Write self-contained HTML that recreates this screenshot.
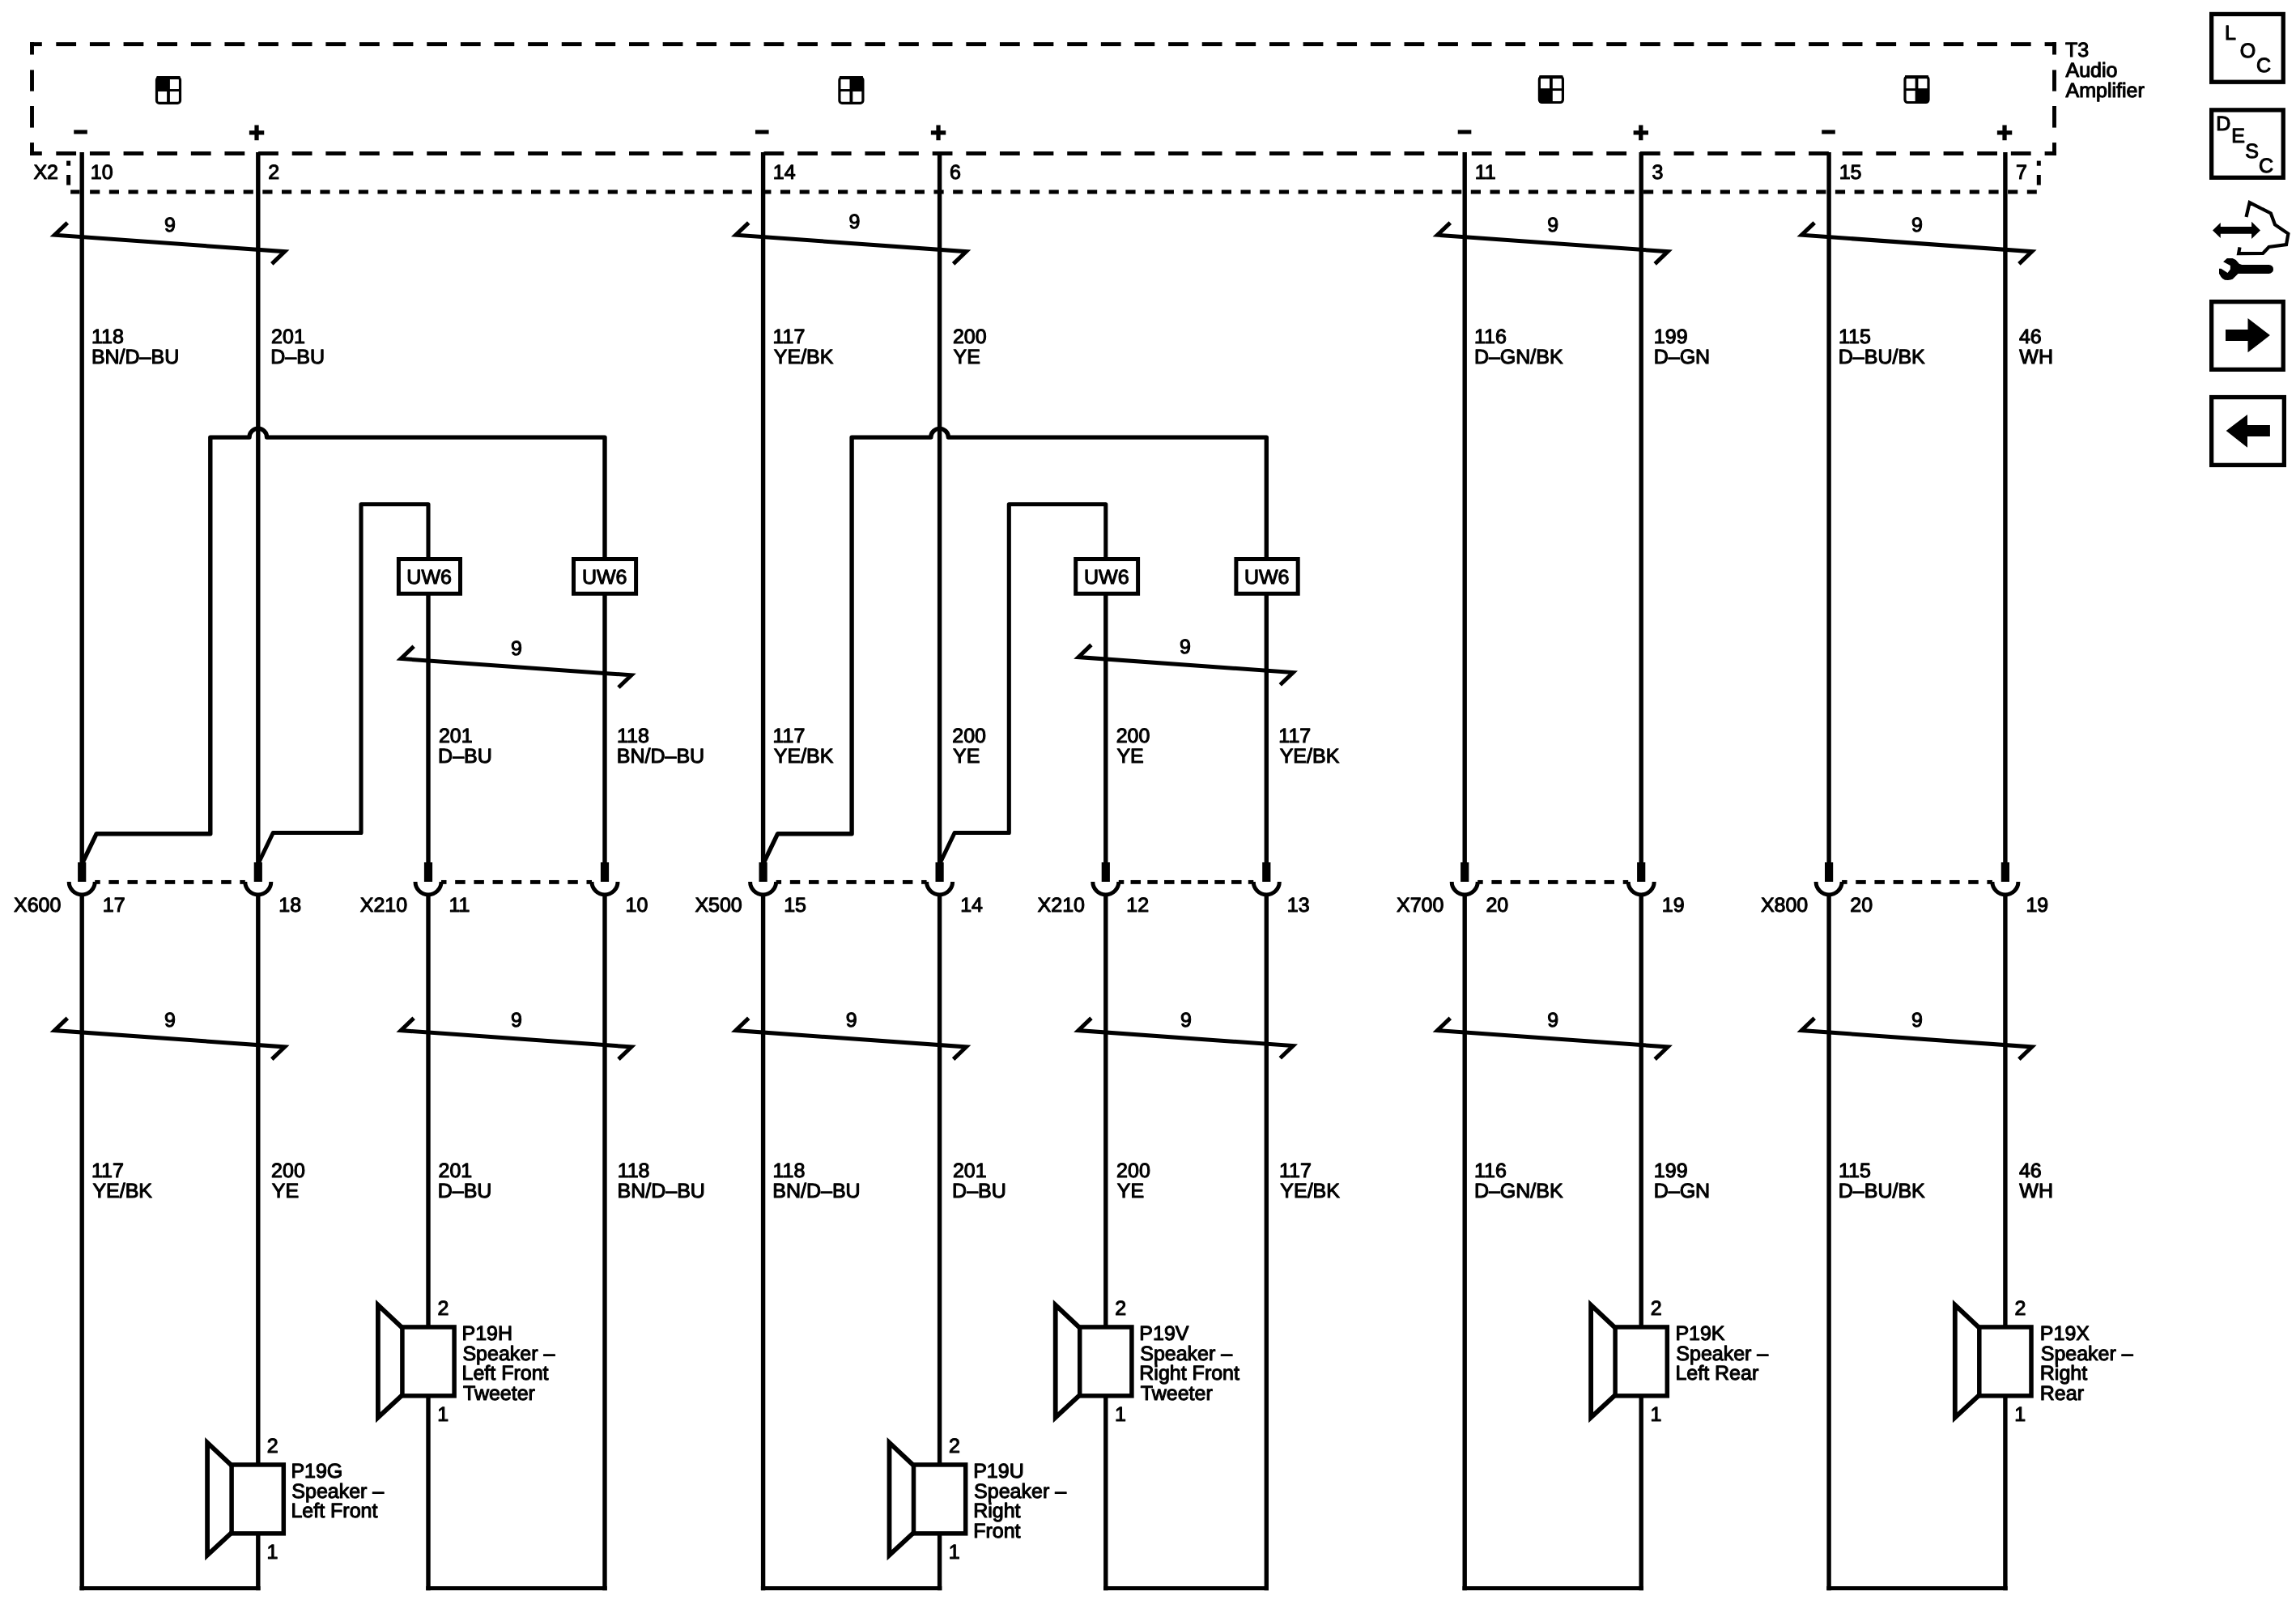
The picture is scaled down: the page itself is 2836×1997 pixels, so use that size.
<!DOCTYPE html>
<html lang="en"><head><meta charset="utf-8"><title>T3 Audio Amplifier – Speaker Wiring</title>
<style>
html,body{margin:0;padding:0;background:#fff}
body{width:2836px;height:1997px;overflow:hidden}
svg{display:block;will-change:transform;filter:grayscale(1)}
.t,.pm{text-rendering:geometricPrecision}
.t{font-family:"Liberation Sans",sans-serif;font-size:25px;fill:#000;stroke:#000;stroke-width:1.1px;stroke-linejoin:round}
.pm{font-family:"Liberation Sans",sans-serif;font-weight:bold;fill:#000;stroke:#000;stroke-width:1.6px}
</style></head><body>
<svg width="2836" height="1997" viewBox="0 0 2836 1997" shape-rendering="geometricPrecision">
<rect x="0" y="0" width="2836" height="1997" fill="#fff"/>
<g stroke="#000">
<line x1="37.05" y1="54.6" x2="51.8" y2="54.6" stroke-width="4.9"/>
<line x1="69.3" y1="54.6" x2="94.1" y2="54.6" stroke-width="4.9"/>
<line x1="110.93" y1="54.6" x2="135.73" y2="54.6" stroke-width="4.9"/>
<line x1="152.56" y1="54.6" x2="177.36" y2="54.6" stroke-width="4.9"/>
<line x1="194.19" y1="54.6" x2="218.99" y2="54.6" stroke-width="4.9"/>
<line x1="235.82" y1="54.6" x2="260.62" y2="54.6" stroke-width="4.9"/>
<line x1="277.45" y1="54.6" x2="302.25" y2="54.6" stroke-width="4.9"/>
<line x1="319.08" y1="54.6" x2="343.88" y2="54.6" stroke-width="4.9"/>
<line x1="360.71" y1="54.6" x2="385.51" y2="54.6" stroke-width="4.9"/>
<line x1="402.34" y1="54.6" x2="427.14" y2="54.6" stroke-width="4.9"/>
<line x1="443.97" y1="54.6" x2="468.77" y2="54.6" stroke-width="4.9"/>
<line x1="485.6" y1="54.6" x2="510.4" y2="54.6" stroke-width="4.9"/>
<line x1="527.23" y1="54.6" x2="552.03" y2="54.6" stroke-width="4.9"/>
<line x1="568.86" y1="54.6" x2="593.66" y2="54.6" stroke-width="4.9"/>
<line x1="610.49" y1="54.6" x2="635.29" y2="54.6" stroke-width="4.9"/>
<line x1="652.12" y1="54.6" x2="676.92" y2="54.6" stroke-width="4.9"/>
<line x1="693.75" y1="54.6" x2="718.55" y2="54.6" stroke-width="4.9"/>
<line x1="735.38" y1="54.6" x2="760.18" y2="54.6" stroke-width="4.9"/>
<line x1="777.01" y1="54.6" x2="801.81" y2="54.6" stroke-width="4.9"/>
<line x1="818.64" y1="54.6" x2="843.44" y2="54.6" stroke-width="4.9"/>
<line x1="860.27" y1="54.6" x2="885.07" y2="54.6" stroke-width="4.9"/>
<line x1="901.9" y1="54.6" x2="926.7" y2="54.6" stroke-width="4.9"/>
<line x1="943.53" y1="54.6" x2="968.33" y2="54.6" stroke-width="4.9"/>
<line x1="985.16" y1="54.6" x2="1009.96" y2="54.6" stroke-width="4.9"/>
<line x1="1026.79" y1="54.6" x2="1051.59" y2="54.6" stroke-width="4.9"/>
<line x1="1068.42" y1="54.6" x2="1093.22" y2="54.6" stroke-width="4.9"/>
<line x1="1110.05" y1="54.6" x2="1134.85" y2="54.6" stroke-width="4.9"/>
<line x1="1151.68" y1="54.6" x2="1176.48" y2="54.6" stroke-width="4.9"/>
<line x1="1193.31" y1="54.6" x2="1218.11" y2="54.6" stroke-width="4.9"/>
<line x1="1234.94" y1="54.6" x2="1259.74" y2="54.6" stroke-width="4.9"/>
<line x1="1276.57" y1="54.6" x2="1301.37" y2="54.6" stroke-width="4.9"/>
<line x1="1318.2" y1="54.6" x2="1343" y2="54.6" stroke-width="4.9"/>
<line x1="1359.83" y1="54.6" x2="1384.63" y2="54.6" stroke-width="4.9"/>
<line x1="1401.46" y1="54.6" x2="1426.26" y2="54.6" stroke-width="4.9"/>
<line x1="1443.09" y1="54.6" x2="1467.89" y2="54.6" stroke-width="4.9"/>
<line x1="1484.72" y1="54.6" x2="1509.52" y2="54.6" stroke-width="4.9"/>
<line x1="1526.35" y1="54.6" x2="1551.15" y2="54.6" stroke-width="4.9"/>
<line x1="1567.98" y1="54.6" x2="1592.78" y2="54.6" stroke-width="4.9"/>
<line x1="1609.61" y1="54.6" x2="1634.41" y2="54.6" stroke-width="4.9"/>
<line x1="1651.24" y1="54.6" x2="1676.04" y2="54.6" stroke-width="4.9"/>
<line x1="1692.87" y1="54.6" x2="1717.67" y2="54.6" stroke-width="4.9"/>
<line x1="1734.5" y1="54.6" x2="1759.3" y2="54.6" stroke-width="4.9"/>
<line x1="1776.13" y1="54.6" x2="1800.93" y2="54.6" stroke-width="4.9"/>
<line x1="1817.76" y1="54.6" x2="1842.56" y2="54.6" stroke-width="4.9"/>
<line x1="1859.39" y1="54.6" x2="1884.19" y2="54.6" stroke-width="4.9"/>
<line x1="1901.02" y1="54.6" x2="1925.82" y2="54.6" stroke-width="4.9"/>
<line x1="1942.65" y1="54.6" x2="1967.45" y2="54.6" stroke-width="4.9"/>
<line x1="1984.28" y1="54.6" x2="2009.08" y2="54.6" stroke-width="4.9"/>
<line x1="2025.91" y1="54.6" x2="2050.71" y2="54.6" stroke-width="4.9"/>
<line x1="2067.54" y1="54.6" x2="2092.34" y2="54.6" stroke-width="4.9"/>
<line x1="2109.17" y1="54.6" x2="2133.97" y2="54.6" stroke-width="4.9"/>
<line x1="2150.8" y1="54.6" x2="2175.6" y2="54.6" stroke-width="4.9"/>
<line x1="2192.43" y1="54.6" x2="2217.23" y2="54.6" stroke-width="4.9"/>
<line x1="2234.06" y1="54.6" x2="2258.86" y2="54.6" stroke-width="4.9"/>
<line x1="2275.69" y1="54.6" x2="2300.49" y2="54.6" stroke-width="4.9"/>
<line x1="2317.32" y1="54.6" x2="2342.12" y2="54.6" stroke-width="4.9"/>
<line x1="2358.95" y1="54.6" x2="2383.75" y2="54.6" stroke-width="4.9"/>
<line x1="2400.58" y1="54.6" x2="2425.38" y2="54.6" stroke-width="4.9"/>
<line x1="2442.21" y1="54.6" x2="2467.01" y2="54.6" stroke-width="4.9"/>
<line x1="2483.84" y1="54.6" x2="2508.64" y2="54.6" stroke-width="4.9"/>
<line x1="2525.6" y1="54.6" x2="2539.95" y2="54.6" stroke-width="4.9"/>
<line x1="37.05" y1="189.5" x2="51.8" y2="189.5" stroke-width="4.9"/>
<line x1="69.3" y1="189.5" x2="94.1" y2="189.5" stroke-width="4.9"/>
<line x1="110.93" y1="189.5" x2="135.73" y2="189.5" stroke-width="4.9"/>
<line x1="152.56" y1="189.5" x2="177.36" y2="189.5" stroke-width="4.9"/>
<line x1="194.19" y1="189.5" x2="218.99" y2="189.5" stroke-width="4.9"/>
<line x1="235.82" y1="189.5" x2="260.62" y2="189.5" stroke-width="4.9"/>
<line x1="277.45" y1="189.5" x2="302.25" y2="189.5" stroke-width="4.9"/>
<line x1="319.08" y1="189.5" x2="343.88" y2="189.5" stroke-width="4.9"/>
<line x1="360.71" y1="189.5" x2="385.51" y2="189.5" stroke-width="4.9"/>
<line x1="402.34" y1="189.5" x2="427.14" y2="189.5" stroke-width="4.9"/>
<line x1="443.97" y1="189.5" x2="468.77" y2="189.5" stroke-width="4.9"/>
<line x1="485.6" y1="189.5" x2="510.4" y2="189.5" stroke-width="4.9"/>
<line x1="527.23" y1="189.5" x2="552.03" y2="189.5" stroke-width="4.9"/>
<line x1="568.86" y1="189.5" x2="593.66" y2="189.5" stroke-width="4.9"/>
<line x1="610.49" y1="189.5" x2="635.29" y2="189.5" stroke-width="4.9"/>
<line x1="652.12" y1="189.5" x2="676.92" y2="189.5" stroke-width="4.9"/>
<line x1="693.75" y1="189.5" x2="718.55" y2="189.5" stroke-width="4.9"/>
<line x1="735.38" y1="189.5" x2="760.18" y2="189.5" stroke-width="4.9"/>
<line x1="777.01" y1="189.5" x2="801.81" y2="189.5" stroke-width="4.9"/>
<line x1="818.64" y1="189.5" x2="843.44" y2="189.5" stroke-width="4.9"/>
<line x1="860.27" y1="189.5" x2="885.07" y2="189.5" stroke-width="4.9"/>
<line x1="901.9" y1="189.5" x2="926.7" y2="189.5" stroke-width="4.9"/>
<line x1="943.53" y1="189.5" x2="968.33" y2="189.5" stroke-width="4.9"/>
<line x1="985.16" y1="189.5" x2="1009.96" y2="189.5" stroke-width="4.9"/>
<line x1="1026.79" y1="189.5" x2="1051.59" y2="189.5" stroke-width="4.9"/>
<line x1="1068.42" y1="189.5" x2="1093.22" y2="189.5" stroke-width="4.9"/>
<line x1="1110.05" y1="189.5" x2="1134.85" y2="189.5" stroke-width="4.9"/>
<line x1="1151.68" y1="189.5" x2="1176.48" y2="189.5" stroke-width="4.9"/>
<line x1="1193.31" y1="189.5" x2="1218.11" y2="189.5" stroke-width="4.9"/>
<line x1="1234.94" y1="189.5" x2="1259.74" y2="189.5" stroke-width="4.9"/>
<line x1="1276.57" y1="189.5" x2="1301.37" y2="189.5" stroke-width="4.9"/>
<line x1="1318.2" y1="189.5" x2="1343" y2="189.5" stroke-width="4.9"/>
<line x1="1359.83" y1="189.5" x2="1384.63" y2="189.5" stroke-width="4.9"/>
<line x1="1401.46" y1="189.5" x2="1426.26" y2="189.5" stroke-width="4.9"/>
<line x1="1443.09" y1="189.5" x2="1467.89" y2="189.5" stroke-width="4.9"/>
<line x1="1484.72" y1="189.5" x2="1509.52" y2="189.5" stroke-width="4.9"/>
<line x1="1526.35" y1="189.5" x2="1551.15" y2="189.5" stroke-width="4.9"/>
<line x1="1567.98" y1="189.5" x2="1592.78" y2="189.5" stroke-width="4.9"/>
<line x1="1609.61" y1="189.5" x2="1634.41" y2="189.5" stroke-width="4.9"/>
<line x1="1651.24" y1="189.5" x2="1676.04" y2="189.5" stroke-width="4.9"/>
<line x1="1692.87" y1="189.5" x2="1717.67" y2="189.5" stroke-width="4.9"/>
<line x1="1734.5" y1="189.5" x2="1759.3" y2="189.5" stroke-width="4.9"/>
<line x1="1776.13" y1="189.5" x2="1800.93" y2="189.5" stroke-width="4.9"/>
<line x1="1817.76" y1="189.5" x2="1842.56" y2="189.5" stroke-width="4.9"/>
<line x1="1859.39" y1="189.5" x2="1884.19" y2="189.5" stroke-width="4.9"/>
<line x1="1901.02" y1="189.5" x2="1925.82" y2="189.5" stroke-width="4.9"/>
<line x1="1942.65" y1="189.5" x2="1967.45" y2="189.5" stroke-width="4.9"/>
<line x1="1984.28" y1="189.5" x2="2009.08" y2="189.5" stroke-width="4.9"/>
<line x1="2025.91" y1="189.5" x2="2050.71" y2="189.5" stroke-width="4.9"/>
<line x1="2067.54" y1="189.5" x2="2092.34" y2="189.5" stroke-width="4.9"/>
<line x1="2109.17" y1="189.5" x2="2133.97" y2="189.5" stroke-width="4.9"/>
<line x1="2150.8" y1="189.5" x2="2175.6" y2="189.5" stroke-width="4.9"/>
<line x1="2192.43" y1="189.5" x2="2217.23" y2="189.5" stroke-width="4.9"/>
<line x1="2234.06" y1="189.5" x2="2258.86" y2="189.5" stroke-width="4.9"/>
<line x1="2275.69" y1="189.5" x2="2300.49" y2="189.5" stroke-width="4.9"/>
<line x1="2317.32" y1="189.5" x2="2342.12" y2="189.5" stroke-width="4.9"/>
<line x1="2358.95" y1="189.5" x2="2383.75" y2="189.5" stroke-width="4.9"/>
<line x1="2400.58" y1="189.5" x2="2425.38" y2="189.5" stroke-width="4.9"/>
<line x1="2442.21" y1="189.5" x2="2467.01" y2="189.5" stroke-width="4.9"/>
<line x1="2483.84" y1="189.5" x2="2508.64" y2="189.5" stroke-width="4.9"/>
<line x1="2525.6" y1="189.5" x2="2539.95" y2="189.5" stroke-width="4.9"/>
<line x1="39.5" y1="52.15" x2="39.5" y2="67.5" stroke-width="4.9"/>
<line x1="39.5" y1="86.4" x2="39.5" y2="112.6" stroke-width="4.9"/>
<line x1="39.5" y1="131" x2="39.5" y2="157.6" stroke-width="4.9"/>
<line x1="39.5" y1="176.1" x2="39.5" y2="191.95" stroke-width="4.9"/>
<line x1="2537.5" y1="52.15" x2="2537.5" y2="67.5" stroke-width="4.9"/>
<line x1="2537.5" y1="86.4" x2="2537.5" y2="112.6" stroke-width="4.9"/>
<line x1="2537.5" y1="131" x2="2537.5" y2="157.6" stroke-width="4.9"/>
<line x1="2537.5" y1="176.1" x2="2537.5" y2="191.95" stroke-width="4.9"/>
<line x1="87.1" y1="237" x2="98.5" y2="237" stroke-width="5"/>
<line x1="111.1" y1="237" x2="123.3" y2="237" stroke-width="5"/>
<line x1="134.79" y1="237" x2="146.99" y2="237" stroke-width="5"/>
<line x1="158.48" y1="237" x2="170.68" y2="237" stroke-width="5"/>
<line x1="182.17" y1="237" x2="194.37" y2="237" stroke-width="5"/>
<line x1="205.86" y1="237" x2="218.06" y2="237" stroke-width="5"/>
<line x1="229.55" y1="237" x2="241.75" y2="237" stroke-width="5"/>
<line x1="253.24" y1="237" x2="265.44" y2="237" stroke-width="5"/>
<line x1="276.93" y1="237" x2="289.13" y2="237" stroke-width="5"/>
<line x1="300.62" y1="237" x2="312.82" y2="237" stroke-width="5"/>
<line x1="324.31" y1="237" x2="336.51" y2="237" stroke-width="5"/>
<line x1="348" y1="237" x2="360.2" y2="237" stroke-width="5"/>
<line x1="371.69" y1="237" x2="383.89" y2="237" stroke-width="5"/>
<line x1="395.38" y1="237" x2="407.58" y2="237" stroke-width="5"/>
<line x1="419.07" y1="237" x2="431.27" y2="237" stroke-width="5"/>
<line x1="442.76" y1="237" x2="454.96" y2="237" stroke-width="5"/>
<line x1="466.45" y1="237" x2="478.65" y2="237" stroke-width="5"/>
<line x1="490.14" y1="237" x2="502.34" y2="237" stroke-width="5"/>
<line x1="513.83" y1="237" x2="526.03" y2="237" stroke-width="5"/>
<line x1="537.52" y1="237" x2="549.72" y2="237" stroke-width="5"/>
<line x1="561.21" y1="237" x2="573.41" y2="237" stroke-width="5"/>
<line x1="584.9" y1="237" x2="597.1" y2="237" stroke-width="5"/>
<line x1="608.59" y1="237" x2="620.79" y2="237" stroke-width="5"/>
<line x1="632.28" y1="237" x2="644.48" y2="237" stroke-width="5"/>
<line x1="655.97" y1="237" x2="668.17" y2="237" stroke-width="5"/>
<line x1="679.66" y1="237" x2="691.86" y2="237" stroke-width="5"/>
<line x1="703.35" y1="237" x2="715.55" y2="237" stroke-width="5"/>
<line x1="727.04" y1="237" x2="739.24" y2="237" stroke-width="5"/>
<line x1="750.73" y1="237" x2="762.93" y2="237" stroke-width="5"/>
<line x1="774.42" y1="237" x2="786.62" y2="237" stroke-width="5"/>
<line x1="798.11" y1="237" x2="810.31" y2="237" stroke-width="5"/>
<line x1="821.8" y1="237" x2="834" y2="237" stroke-width="5"/>
<line x1="845.49" y1="237" x2="857.69" y2="237" stroke-width="5"/>
<line x1="869.18" y1="237" x2="881.38" y2="237" stroke-width="5"/>
<line x1="892.87" y1="237" x2="905.07" y2="237" stroke-width="5"/>
<line x1="916.56" y1="237" x2="928.76" y2="237" stroke-width="5"/>
<line x1="940.25" y1="237" x2="952.45" y2="237" stroke-width="5"/>
<line x1="963.94" y1="237" x2="976.14" y2="237" stroke-width="5"/>
<line x1="987.63" y1="237" x2="999.83" y2="237" stroke-width="5"/>
<line x1="1011.32" y1="237" x2="1023.52" y2="237" stroke-width="5"/>
<line x1="1035.01" y1="237" x2="1047.21" y2="237" stroke-width="5"/>
<line x1="1058.7" y1="237" x2="1070.9" y2="237" stroke-width="5"/>
<line x1="1082.39" y1="237" x2="1094.59" y2="237" stroke-width="5"/>
<line x1="1106.08" y1="237" x2="1118.28" y2="237" stroke-width="5"/>
<line x1="1129.77" y1="237" x2="1141.97" y2="237" stroke-width="5"/>
<line x1="1153.46" y1="237" x2="1165.66" y2="237" stroke-width="5"/>
<line x1="1177.15" y1="237" x2="1189.35" y2="237" stroke-width="5"/>
<line x1="1200.84" y1="237" x2="1213.04" y2="237" stroke-width="5"/>
<line x1="1224.53" y1="237" x2="1236.73" y2="237" stroke-width="5"/>
<line x1="1248.22" y1="237" x2="1260.42" y2="237" stroke-width="5"/>
<line x1="1271.91" y1="237" x2="1284.11" y2="237" stroke-width="5"/>
<line x1="1295.6" y1="237" x2="1307.8" y2="237" stroke-width="5"/>
<line x1="1319.29" y1="237" x2="1331.49" y2="237" stroke-width="5"/>
<line x1="1342.98" y1="237" x2="1355.18" y2="237" stroke-width="5"/>
<line x1="1366.67" y1="237" x2="1378.87" y2="237" stroke-width="5"/>
<line x1="1390.36" y1="237" x2="1402.56" y2="237" stroke-width="5"/>
<line x1="1414.05" y1="237" x2="1426.25" y2="237" stroke-width="5"/>
<line x1="1437.74" y1="237" x2="1449.94" y2="237" stroke-width="5"/>
<line x1="1461.43" y1="237" x2="1473.63" y2="237" stroke-width="5"/>
<line x1="1485.12" y1="237" x2="1497.32" y2="237" stroke-width="5"/>
<line x1="1508.81" y1="237" x2="1521.01" y2="237" stroke-width="5"/>
<line x1="1532.5" y1="237" x2="1544.7" y2="237" stroke-width="5"/>
<line x1="1556.19" y1="237" x2="1568.39" y2="237" stroke-width="5"/>
<line x1="1579.88" y1="237" x2="1592.08" y2="237" stroke-width="5"/>
<line x1="1603.57" y1="237" x2="1615.77" y2="237" stroke-width="5"/>
<line x1="1627.26" y1="237" x2="1639.46" y2="237" stroke-width="5"/>
<line x1="1650.95" y1="237" x2="1663.15" y2="237" stroke-width="5"/>
<line x1="1674.64" y1="237" x2="1686.84" y2="237" stroke-width="5"/>
<line x1="1698.33" y1="237" x2="1710.53" y2="237" stroke-width="5"/>
<line x1="1722.02" y1="237" x2="1734.22" y2="237" stroke-width="5"/>
<line x1="1745.71" y1="237" x2="1757.91" y2="237" stroke-width="5"/>
<line x1="1769.4" y1="237" x2="1781.6" y2="237" stroke-width="5"/>
<line x1="1793.09" y1="237" x2="1805.29" y2="237" stroke-width="5"/>
<line x1="1816.78" y1="237" x2="1828.98" y2="237" stroke-width="5"/>
<line x1="1840.47" y1="237" x2="1852.67" y2="237" stroke-width="5"/>
<line x1="1864.16" y1="237" x2="1876.36" y2="237" stroke-width="5"/>
<line x1="1887.85" y1="237" x2="1900.05" y2="237" stroke-width="5"/>
<line x1="1911.54" y1="237" x2="1923.74" y2="237" stroke-width="5"/>
<line x1="1935.23" y1="237" x2="1947.43" y2="237" stroke-width="5"/>
<line x1="1958.92" y1="237" x2="1971.12" y2="237" stroke-width="5"/>
<line x1="1982.61" y1="237" x2="1994.81" y2="237" stroke-width="5"/>
<line x1="2006.3" y1="237" x2="2018.5" y2="237" stroke-width="5"/>
<line x1="2029.99" y1="237" x2="2042.19" y2="237" stroke-width="5"/>
<line x1="2053.68" y1="237" x2="2065.88" y2="237" stroke-width="5"/>
<line x1="2077.37" y1="237" x2="2089.57" y2="237" stroke-width="5"/>
<line x1="2101.06" y1="237" x2="2113.26" y2="237" stroke-width="5"/>
<line x1="2124.75" y1="237" x2="2136.95" y2="237" stroke-width="5"/>
<line x1="2148.44" y1="237" x2="2160.64" y2="237" stroke-width="5"/>
<line x1="2172.13" y1="237" x2="2184.33" y2="237" stroke-width="5"/>
<line x1="2195.82" y1="237" x2="2208.02" y2="237" stroke-width="5"/>
<line x1="2219.51" y1="237" x2="2231.71" y2="237" stroke-width="5"/>
<line x1="2243.2" y1="237" x2="2255.4" y2="237" stroke-width="5"/>
<line x1="2266.89" y1="237" x2="2279.09" y2="237" stroke-width="5"/>
<line x1="2290.58" y1="237" x2="2302.78" y2="237" stroke-width="5"/>
<line x1="2314.27" y1="237" x2="2326.47" y2="237" stroke-width="5"/>
<line x1="2337.96" y1="237" x2="2350.16" y2="237" stroke-width="5"/>
<line x1="2361.65" y1="237" x2="2373.85" y2="237" stroke-width="5"/>
<line x1="2385.34" y1="237" x2="2397.54" y2="237" stroke-width="5"/>
<line x1="2409.03" y1="237" x2="2421.23" y2="237" stroke-width="5"/>
<line x1="2432.72" y1="237" x2="2444.92" y2="237" stroke-width="5"/>
<line x1="2456.41" y1="237" x2="2468.61" y2="237" stroke-width="5"/>
<line x1="2480.1" y1="237" x2="2492.3" y2="237" stroke-width="5"/>
<line x1="2503.79" y1="237" x2="2515.8" y2="237" stroke-width="5"/>
<line x1="84.6" y1="198.6" x2="84.6" y2="204.7" stroke-width="5"/>
<line x1="84.6" y1="216" x2="84.6" y2="228.6" stroke-width="5"/>
<line x1="2518.3" y1="198.6" x2="2518.3" y2="204.7" stroke-width="5"/>
<line x1="2518.3" y1="216" x2="2518.3" y2="228.6" stroke-width="5"/>
<rect x="193.5" y="95.6" width="29" height="31.8" rx="3.2" ry="3.2" fill="#fff" stroke-width="3.2"/>
<line x1="193.5" y1="96" x2="222.5" y2="96" stroke-width="4"/>
<line x1="208" y1="95.6" x2="208" y2="127.4" stroke-width="3.8"/>
<line x1="193.5" y1="111.5" x2="222.5" y2="111.5" stroke-width="2.9"/>
<rect x="193.5" y="95.6" width="14.5" height="15.9" fill="#000" stroke="none"/>
<rect x="1036.9" y="95.6" width="29" height="31.8" rx="3.2" ry="3.2" fill="#fff" stroke-width="3.2"/>
<line x1="1036.9" y1="96" x2="1065.9" y2="96" stroke-width="4"/>
<line x1="1051.4" y1="95.6" x2="1051.4" y2="127.4" stroke-width="3.8"/>
<line x1="1036.9" y1="111.5" x2="1065.9" y2="111.5" stroke-width="2.9"/>
<rect x="1051.4" y="95.6" width="14.5" height="15.9" fill="#000" stroke="none"/>
<rect x="1901.4" y="94.7" width="29" height="31.8" rx="3.2" ry="3.2" fill="#fff" stroke-width="3.2"/>
<line x1="1901.4" y1="95.1" x2="1930.4" y2="95.1" stroke-width="4"/>
<line x1="1915.9" y1="94.7" x2="1915.9" y2="126.5" stroke-width="3.8"/>
<line x1="1901.4" y1="110.6" x2="1930.4" y2="110.6" stroke-width="2.9"/>
<rect x="1901.4" y="110.6" width="14.5" height="15.9" fill="#000" stroke="none"/>
<rect x="2353" y="94.7" width="29" height="31.8" rx="3.2" ry="3.2" fill="#fff" stroke-width="3.2"/>
<line x1="2353" y1="95.1" x2="2382" y2="95.1" stroke-width="4"/>
<line x1="2367.5" y1="94.7" x2="2367.5" y2="126.5" stroke-width="3.8"/>
<line x1="2353" y1="110.6" x2="2382" y2="110.6" stroke-width="2.9"/>
<rect x="2367.5" y="110.6" width="14.5" height="15.9" fill="#000" stroke="none"/>
<text class="pm" x="99.4" y="173.29" text-anchor="middle" font-size="30">−</text>
<text class="pm" x="317" y="174.54" text-anchor="middle" font-size="33.5">+</text>
<text class="pm" x="941.3" y="173.29" text-anchor="middle" font-size="30">−</text>
<text class="pm" x="1159" y="174.54" text-anchor="middle" font-size="33.5">+</text>
<text class="pm" x="1809.1" y="173.29" text-anchor="middle" font-size="30">−</text>
<text class="pm" x="2026.7" y="174.54" text-anchor="middle" font-size="33.5">+</text>
<text class="pm" x="2258.5" y="173.29" text-anchor="middle" font-size="30">−</text>
<text class="pm" x="2476.1" y="174.54" text-anchor="middle" font-size="33.5">+</text>
<line x1="101.2" y1="188" x2="101.2" y2="1066" stroke-width="5.4"/>
<line x1="101.2" y1="1105" x2="101.2" y2="1964.2" stroke-width="5.4"/>
<rect x="96.1" y="1065" width="10.2" height="24" fill="#000" stroke="none"/>
<path d="M85.2 1089 A16 16 0 0 0 117.2 1089" stroke-width="5" fill="none"/>
<line x1="318.8" y1="188" x2="318.8" y2="1066" stroke-width="5.4"/>
<line x1="318.8" y1="1105" x2="318.8" y2="1808.2" stroke-width="5.4"/>
<line x1="318.8" y1="1894.2" x2="318.8" y2="1964.2" stroke-width="5.4"/>
<rect x="313.7" y="1065" width="10.2" height="24" fill="#000" stroke="none"/>
<path d="M302.8 1089 A16 16 0 0 0 334.8 1089" stroke-width="5" fill="none"/>
<line x1="529" y1="735" x2="529" y2="1066" stroke-width="5.4"/>
<line x1="529" y1="1105" x2="529" y2="1638.2" stroke-width="5.4"/>
<line x1="529" y1="1724.2" x2="529" y2="1964.2" stroke-width="5.4"/>
<rect x="523.9" y="1065" width="10.2" height="24" fill="#000" stroke="none"/>
<path d="M513 1089 A16 16 0 0 0 545 1089" stroke-width="5" fill="none"/>
<line x1="747" y1="735" x2="747" y2="1066" stroke-width="5.4"/>
<line x1="747" y1="1105" x2="747" y2="1964.2" stroke-width="5.4"/>
<rect x="741.9" y="1065" width="10.2" height="24" fill="#000" stroke="none"/>
<path d="M731 1089 A16 16 0 0 0 763 1089" stroke-width="5" fill="none"/>
<line x1="942.6" y1="188" x2="942.6" y2="1066" stroke-width="5.4"/>
<line x1="942.6" y1="1105" x2="942.6" y2="1964.2" stroke-width="5.4"/>
<rect x="937.5" y="1065" width="10.2" height="24" fill="#000" stroke="none"/>
<path d="M926.6 1089 A16 16 0 0 0 958.6 1089" stroke-width="5" fill="none"/>
<line x1="1160.6" y1="188" x2="1160.6" y2="1066" stroke-width="5.4"/>
<line x1="1160.6" y1="1105" x2="1160.6" y2="1808.2" stroke-width="5.4"/>
<line x1="1160.6" y1="1894.2" x2="1160.6" y2="1964.2" stroke-width="5.4"/>
<rect x="1155.5" y="1065" width="10.2" height="24" fill="#000" stroke="none"/>
<path d="M1144.6 1089 A16 16 0 0 0 1176.6 1089" stroke-width="5" fill="none"/>
<line x1="1365.8" y1="735" x2="1365.8" y2="1066" stroke-width="5.4"/>
<line x1="1365.8" y1="1105" x2="1365.8" y2="1638.2" stroke-width="5.4"/>
<line x1="1365.8" y1="1724.2" x2="1365.8" y2="1964.2" stroke-width="5.4"/>
<rect x="1360.7" y="1065" width="10.2" height="24" fill="#000" stroke="none"/>
<path d="M1349.8 1089 A16 16 0 0 0 1381.8 1089" stroke-width="5" fill="none"/>
<line x1="1564.3" y1="735" x2="1564.3" y2="1066" stroke-width="5.4"/>
<line x1="1564.3" y1="1105" x2="1564.3" y2="1964.2" stroke-width="5.4"/>
<rect x="1559.2" y="1065" width="10.2" height="24" fill="#000" stroke="none"/>
<path d="M1548.3 1089 A16 16 0 0 0 1580.3 1089" stroke-width="5" fill="none"/>
<line x1="1809.2" y1="188" x2="1809.2" y2="1066" stroke-width="5.4"/>
<line x1="1809.2" y1="1105" x2="1809.2" y2="1964.2" stroke-width="5.4"/>
<rect x="1804.1" y="1065" width="10.2" height="24" fill="#000" stroke="none"/>
<path d="M1793.2 1089 A16 16 0 0 0 1825.2 1089" stroke-width="5" fill="none"/>
<line x1="2027.2" y1="188" x2="2027.2" y2="1066" stroke-width="5.4"/>
<line x1="2027.2" y1="1105" x2="2027.2" y2="1638.2" stroke-width="5.4"/>
<line x1="2027.2" y1="1724.2" x2="2027.2" y2="1964.2" stroke-width="5.4"/>
<rect x="2022.1" y="1065" width="10.2" height="24" fill="#000" stroke="none"/>
<path d="M2011.2 1089 A16 16 0 0 0 2043.2 1089" stroke-width="5" fill="none"/>
<line x1="2259.1" y1="188" x2="2259.1" y2="1066" stroke-width="5.4"/>
<line x1="2259.1" y1="1105" x2="2259.1" y2="1964.2" stroke-width="5.4"/>
<rect x="2254" y="1065" width="10.2" height="24" fill="#000" stroke="none"/>
<path d="M2243.1 1089 A16 16 0 0 0 2275.1 1089" stroke-width="5" fill="none"/>
<line x1="2476.9" y1="188" x2="2476.9" y2="1066" stroke-width="5.4"/>
<line x1="2476.9" y1="1105" x2="2476.9" y2="1638.2" stroke-width="5.4"/>
<line x1="2476.9" y1="1724.2" x2="2476.9" y2="1964.2" stroke-width="5.4"/>
<rect x="2471.8" y="1065" width="10.2" height="24" fill="#000" stroke="none"/>
<path d="M2460.9 1089 A16 16 0 0 0 2492.9 1089" stroke-width="5" fill="none"/>
<line x1="98.5" y1="1961.5" x2="321.5" y2="1961.5" stroke-width="5"/>
<line x1="117.2" y1="1089.4" x2="123.7" y2="1089.4" stroke-width="4.9"/>
<line x1="134.34" y1="1089.4" x2="146.84" y2="1089.4" stroke-width="4.9"/>
<line x1="157.48" y1="1089.4" x2="169.98" y2="1089.4" stroke-width="4.9"/>
<line x1="180.61" y1="1089.4" x2="193.11" y2="1089.4" stroke-width="4.9"/>
<line x1="203.75" y1="1089.4" x2="216.25" y2="1089.4" stroke-width="4.9"/>
<line x1="226.89" y1="1089.4" x2="239.39" y2="1089.4" stroke-width="4.9"/>
<line x1="250.02" y1="1089.4" x2="262.52" y2="1089.4" stroke-width="4.9"/>
<line x1="273.16" y1="1089.4" x2="285.66" y2="1089.4" stroke-width="4.9"/>
<line x1="296.3" y1="1089.4" x2="302.8" y2="1089.4" stroke-width="4.9"/>
<line x1="526.3" y1="1961.5" x2="749.7" y2="1961.5" stroke-width="5"/>
<line x1="545" y1="1089.4" x2="551.5" y2="1089.4" stroke-width="4.9"/>
<line x1="562.19" y1="1089.4" x2="574.69" y2="1089.4" stroke-width="4.9"/>
<line x1="585.38" y1="1089.4" x2="597.88" y2="1089.4" stroke-width="4.9"/>
<line x1="608.56" y1="1089.4" x2="621.06" y2="1089.4" stroke-width="4.9"/>
<line x1="631.75" y1="1089.4" x2="644.25" y2="1089.4" stroke-width="4.9"/>
<line x1="654.94" y1="1089.4" x2="667.44" y2="1089.4" stroke-width="4.9"/>
<line x1="678.12" y1="1089.4" x2="690.62" y2="1089.4" stroke-width="4.9"/>
<line x1="701.31" y1="1089.4" x2="713.81" y2="1089.4" stroke-width="4.9"/>
<line x1="724.5" y1="1089.4" x2="731" y2="1089.4" stroke-width="4.9"/>
<line x1="939.9" y1="1961.5" x2="1163.3" y2="1961.5" stroke-width="5"/>
<line x1="958.6" y1="1089.4" x2="965.1" y2="1089.4" stroke-width="4.9"/>
<line x1="975.79" y1="1089.4" x2="988.29" y2="1089.4" stroke-width="4.9"/>
<line x1="998.98" y1="1089.4" x2="1011.48" y2="1089.4" stroke-width="4.9"/>
<line x1="1022.16" y1="1089.4" x2="1034.66" y2="1089.4" stroke-width="4.9"/>
<line x1="1045.35" y1="1089.4" x2="1057.85" y2="1089.4" stroke-width="4.9"/>
<line x1="1068.54" y1="1089.4" x2="1081.04" y2="1089.4" stroke-width="4.9"/>
<line x1="1091.72" y1="1089.4" x2="1104.22" y2="1089.4" stroke-width="4.9"/>
<line x1="1114.91" y1="1089.4" x2="1127.41" y2="1089.4" stroke-width="4.9"/>
<line x1="1138.1" y1="1089.4" x2="1144.6" y2="1089.4" stroke-width="4.9"/>
<line x1="1363.1" y1="1961.5" x2="1567" y2="1961.5" stroke-width="5"/>
<line x1="1381.8" y1="1089.4" x2="1388.3" y2="1089.4" stroke-width="4.9"/>
<line x1="1396.55" y1="1089.4" x2="1409.05" y2="1089.4" stroke-width="4.9"/>
<line x1="1417.3" y1="1089.4" x2="1429.8" y2="1089.4" stroke-width="4.9"/>
<line x1="1438.05" y1="1089.4" x2="1450.55" y2="1089.4" stroke-width="4.9"/>
<line x1="1458.8" y1="1089.4" x2="1471.3" y2="1089.4" stroke-width="4.9"/>
<line x1="1479.55" y1="1089.4" x2="1492.05" y2="1089.4" stroke-width="4.9"/>
<line x1="1500.3" y1="1089.4" x2="1512.8" y2="1089.4" stroke-width="4.9"/>
<line x1="1521.05" y1="1089.4" x2="1533.55" y2="1089.4" stroke-width="4.9"/>
<line x1="1541.8" y1="1089.4" x2="1548.3" y2="1089.4" stroke-width="4.9"/>
<line x1="1806.5" y1="1961.5" x2="2029.9" y2="1961.5" stroke-width="5"/>
<line x1="1825.2" y1="1089.4" x2="1831.7" y2="1089.4" stroke-width="4.9"/>
<line x1="1842.39" y1="1089.4" x2="1854.89" y2="1089.4" stroke-width="4.9"/>
<line x1="1865.58" y1="1089.4" x2="1878.08" y2="1089.4" stroke-width="4.9"/>
<line x1="1888.76" y1="1089.4" x2="1901.26" y2="1089.4" stroke-width="4.9"/>
<line x1="1911.95" y1="1089.4" x2="1924.45" y2="1089.4" stroke-width="4.9"/>
<line x1="1935.14" y1="1089.4" x2="1947.64" y2="1089.4" stroke-width="4.9"/>
<line x1="1958.33" y1="1089.4" x2="1970.83" y2="1089.4" stroke-width="4.9"/>
<line x1="1981.51" y1="1089.4" x2="1994.01" y2="1089.4" stroke-width="4.9"/>
<line x1="2004.7" y1="1089.4" x2="2011.2" y2="1089.4" stroke-width="4.9"/>
<line x1="2256.4" y1="1961.5" x2="2479.6" y2="1961.5" stroke-width="5"/>
<line x1="2275.1" y1="1089.4" x2="2281.6" y2="1089.4" stroke-width="4.9"/>
<line x1="2292.26" y1="1089.4" x2="2304.76" y2="1089.4" stroke-width="4.9"/>
<line x1="2315.42" y1="1089.4" x2="2327.92" y2="1089.4" stroke-width="4.9"/>
<line x1="2338.59" y1="1089.4" x2="2351.09" y2="1089.4" stroke-width="4.9"/>
<line x1="2361.75" y1="1089.4" x2="2374.25" y2="1089.4" stroke-width="4.9"/>
<line x1="2384.91" y1="1089.4" x2="2397.41" y2="1089.4" stroke-width="4.9"/>
<line x1="2408.07" y1="1089.4" x2="2420.57" y2="1089.4" stroke-width="4.9"/>
<line x1="2431.24" y1="1089.4" x2="2443.74" y2="1089.4" stroke-width="4.9"/>
<line x1="2454.4" y1="1089.4" x2="2460.9" y2="1089.4" stroke-width="4.9"/>
<path d="M101.2 1067 L119.2 1029.7 L259.8 1029.7 L259.8 540.1 L308 540.1 A10.8 10.8 0 0 1 329.6 540.1 L747 540.1 L747 690" stroke-width="5.4" fill="none" stroke-linejoin="round"/>
<path d="M318.8 1067 L337.3 1028.5 L446 1028.5 L446 622.7 L529 622.7 L529 690" stroke-width="5.1" fill="none" stroke-linejoin="round"/>
<path d="M942.6 1067 L960.6 1029.7 L1052.1 1029.7 L1052.1 540.1 L1149.8 540.1 A10.8 10.8 0 0 1 1171.4 540.1 L1564.3 540.1 L1564.3 690" stroke-width="5.4" fill="none" stroke-linejoin="round"/>
<path d="M1160.6 1067 L1179.1 1028.5 L1246.3 1028.5 L1246.3 622.7 L1365.8 622.7 L1365.8 690" stroke-width="5.1" fill="none" stroke-linejoin="round"/>
<rect x="492.4" y="690.5" width="76.1" height="42.7" fill="#fff" stroke-width="5"/>
<text class="t" x="530.15" y="721.1" text-anchor="middle">UW6</text>
<rect x="708.5" y="690.5" width="77.1" height="42.7" fill="#fff" stroke-width="5"/>
<text class="t" x="746.75" y="721.1" text-anchor="middle">UW6</text>
<rect x="1328.7" y="690.5" width="76.9" height="42.7" fill="#fff" stroke-width="5"/>
<text class="t" x="1366.85" y="721.1" text-anchor="middle">UW6</text>
<rect x="1526.9" y="690.5" width="76.3" height="42.7" fill="#fff" stroke-width="5"/>
<text class="t" x="1564.75" y="721.1" text-anchor="middle">UW6</text>
<rect x="286.1" y="1808.95" width="64.2" height="84.9" fill="#fff" stroke-width="5.5"/>
<path d="M286.1 1809.95 L256.1 1781.75 L256.1 1920.65 L286.1 1892.85" stroke-width="5.8" fill="none" stroke-linejoin="miter" stroke-miterlimit="10"/>
<text class="t" x="329.69" y="1794.35">2</text>
<text class="t" x="329.45" y="1925.35">1</text>
<text class="t" x="359.4" y="1824.75">P19G</text>
<text class="t" x="360.31" y="1849.55">Speaker –</text>
<text class="t" x="359.4" y="1874.35">Left Front</text>
<rect x="496.9" y="1638.95" width="64.2" height="84.9" fill="#fff" stroke-width="5.5"/>
<path d="M496.9 1639.95 L466.9 1611.75 L466.9 1750.65 L496.9 1722.85" stroke-width="5.8" fill="none" stroke-linejoin="miter" stroke-miterlimit="10"/>
<text class="t" x="540.49" y="1624.35">2</text>
<text class="t" x="540.25" y="1755.35">1</text>
<text class="t" x="570.5" y="1654.75">P19H</text>
<text class="t" x="571.41" y="1679.55">Speaker –</text>
<text class="t" x="570.5" y="1704.35">Left Front</text>
<text class="t" x="571.99" y="1729.15">Tweeter</text>
<rect x="1128.5" y="1808.95" width="64.2" height="84.9" fill="#fff" stroke-width="5.5"/>
<path d="M1128.5 1809.95 L1098.5 1781.75 L1098.5 1920.65 L1128.5 1892.85" stroke-width="5.8" fill="none" stroke-linejoin="miter" stroke-miterlimit="10"/>
<text class="t" x="1172.09" y="1794.35">2</text>
<text class="t" x="1171.85" y="1925.35">1</text>
<text class="t" x="1202.2" y="1824.75">P19U</text>
<text class="t" x="1203.11" y="1849.55">Speaker –</text>
<text class="t" x="1202.2" y="1874.35">Right</text>
<text class="t" x="1202.2" y="1899.15">Front</text>
<rect x="1333.7" y="1638.95" width="64.2" height="84.9" fill="#fff" stroke-width="5.5"/>
<path d="M1333.7 1639.95 L1303.7 1611.75 L1303.7 1750.65 L1333.7 1722.85" stroke-width="5.8" fill="none" stroke-linejoin="miter" stroke-miterlimit="10"/>
<text class="t" x="1377.29" y="1624.35">2</text>
<text class="t" x="1377.05" y="1755.35">1</text>
<text class="t" x="1407.3" y="1654.75">P19V</text>
<text class="t" x="1408.21" y="1679.55">Speaker –</text>
<text class="t" x="1407.3" y="1704.35">Right Front</text>
<text class="t" x="1408.79" y="1729.15">Tweeter</text>
<rect x="1995.1" y="1638.95" width="64.2" height="84.9" fill="#fff" stroke-width="5.5"/>
<path d="M1995.1 1639.95 L1965.1 1611.75 L1965.1 1750.65 L1995.1 1722.85" stroke-width="5.8" fill="none" stroke-linejoin="miter" stroke-miterlimit="10"/>
<text class="t" x="2038.69" y="1624.35">2</text>
<text class="t" x="2038.45" y="1755.35">1</text>
<text class="t" x="2069.4" y="1654.75">P19K</text>
<text class="t" x="2070.31" y="1679.55">Speaker –</text>
<text class="t" x="2069.4" y="1704.35">Left Rear</text>
<rect x="2444.8" y="1638.95" width="64.2" height="84.9" fill="#fff" stroke-width="5.5"/>
<path d="M2444.8 1639.95 L2414.8 1611.75 L2414.8 1750.65 L2444.8 1722.85" stroke-width="5.8" fill="none" stroke-linejoin="miter" stroke-miterlimit="10"/>
<text class="t" x="2488.39" y="1624.35">2</text>
<text class="t" x="2488.15" y="1755.35">1</text>
<text class="t" x="2519.8" y="1654.75">P19X</text>
<text class="t" x="2520.71" y="1679.55">Speaker –</text>
<text class="t" x="2519.8" y="1704.35">Right</text>
<text class="t" x="2519.8" y="1729.15">Rear</text>
<path d="M83.3 275.08 L67.4 290.28 L351.7 310.64 L335.8 325.84" stroke-width="5" fill="none" stroke-linejoin="miter" stroke-miterlimit="10"/>
<text class="t" x="210" y="286" text-anchor="middle" font-size="26.3">9</text>
<path d="M924.7 275.08 L908.8 290.28 L1193.5 310.66 L1177.6 325.86" stroke-width="5" fill="none" stroke-linejoin="miter" stroke-miterlimit="10"/>
<text class="t" x="1055.4" y="282" text-anchor="middle" font-size="26.3">9</text>
<path d="M1791.3 275.08 L1775.4 290.28 L2060.1 310.66 L2044.2 325.86" stroke-width="5" fill="none" stroke-linejoin="miter" stroke-miterlimit="10"/>
<text class="t" x="1918.2" y="286" text-anchor="middle" font-size="26.3">9</text>
<path d="M2241.2 275.08 L2225.3 290.28 L2509.8 310.65 L2493.9 325.85" stroke-width="5" fill="none" stroke-linejoin="miter" stroke-miterlimit="10"/>
<text class="t" x="2368" y="286" text-anchor="middle" font-size="26.3">9</text>
<path d="M511.1 798.28 L495.2 813.48 L779.9 833.86 L764 849.06" stroke-width="5" fill="none" stroke-linejoin="miter" stroke-miterlimit="10"/>
<text class="t" x="638" y="809.2" text-anchor="middle" font-size="26.3">9</text>
<path d="M1347.9 796.38 L1332 811.58 L1597.2 830.57 L1581.3 845.77" stroke-width="5" fill="none" stroke-linejoin="miter" stroke-miterlimit="10"/>
<text class="t" x="1464.05" y="806.8" text-anchor="middle" font-size="26.3">9</text>
<path d="M83.3 1257.38 L67.4 1272.58 L351.7 1292.94 L335.8 1308.14" stroke-width="5" fill="none" stroke-linejoin="miter" stroke-miterlimit="10"/>
<text class="t" x="210" y="1268.3" text-anchor="middle" font-size="26.3">9</text>
<path d="M511.1 1257.38 L495.2 1272.58 L779.9 1292.96 L764 1308.16" stroke-width="5" fill="none" stroke-linejoin="miter" stroke-miterlimit="10"/>
<text class="t" x="638" y="1268.3" text-anchor="middle" font-size="26.3">9</text>
<path d="M924.7 1257.38 L908.8 1272.58 L1193.5 1292.96 L1177.6 1308.16" stroke-width="5" fill="none" stroke-linejoin="miter" stroke-miterlimit="10"/>
<text class="t" x="1051.6" y="1268.3" text-anchor="middle" font-size="26.3">9</text>
<path d="M1347.9 1257.38 L1332 1272.58 L1597.2 1291.57 L1581.3 1306.77" stroke-width="5" fill="none" stroke-linejoin="miter" stroke-miterlimit="10"/>
<text class="t" x="1465.05" y="1268.3" text-anchor="middle" font-size="26.3">9</text>
<path d="M1791.3 1257.38 L1775.4 1272.58 L2060.1 1292.96 L2044.2 1308.16" stroke-width="5" fill="none" stroke-linejoin="miter" stroke-miterlimit="10"/>
<text class="t" x="1918.2" y="1268.3" text-anchor="middle" font-size="26.3">9</text>
<path d="M2241.2 1257.38 L2225.3 1272.58 L2509.8 1292.95 L2493.9 1308.15" stroke-width="5" fill="none" stroke-linejoin="miter" stroke-miterlimit="10"/>
<text class="t" x="2368" y="1268.3" text-anchor="middle" font-size="26.3">9</text>
<text class="t" x="113.05" y="423.6">118</text>
<text class="t" x="112.9" y="448.6">BN/D–BU</text>
<text class="t" x="335.09" y="423.6">201</text>
<text class="t" x="334.3" y="448.6">D–BU</text>
<text class="t" x="954.45" y="423.6">117</text>
<text class="t" x="955.8" y="448.6">YE/BK</text>
<text class="t" x="1176.89" y="423.6">200</text>
<text class="t" x="1177.6" y="448.6">YE</text>
<text class="t" x="1821.05" y="423.6">116</text>
<text class="t" x="1820.9" y="448.6">D–GN/BK</text>
<text class="t" x="2042.85" y="423.6">199</text>
<text class="t" x="2042.7" y="448.6">D–GN</text>
<text class="t" x="2270.95" y="423.6">115</text>
<text class="t" x="2270.8" y="448.6">D–BU/BK</text>
<text class="t" x="2493.88" y="423.6">46</text>
<text class="t" x="2494.34" y="448.6">WH</text>
<text class="t" x="541.89" y="917.2">201</text>
<text class="t" x="541.1" y="942.2">D–BU</text>
<text class="t" x="761.95" y="917.2">118</text>
<text class="t" x="761.8" y="942.2">BN/D–BU</text>
<text class="t" x="954.45" y="917.2">117</text>
<text class="t" x="955.8" y="942.2">YE/BK</text>
<text class="t" x="1176.29" y="917.2">200</text>
<text class="t" x="1177" y="942.2">YE</text>
<text class="t" x="1378.69" y="917.2">200</text>
<text class="t" x="1379.4" y="942.2">YE</text>
<text class="t" x="1579.35" y="917.2">117</text>
<text class="t" x="1580.7" y="942.2">YE/BK</text>
<text class="t" x="113.05" y="1454.4">117</text>
<text class="t" x="114.4" y="1479.4">YE/BK</text>
<text class="t" x="335.09" y="1454.4">200</text>
<text class="t" x="335.8" y="1479.4">YE</text>
<text class="t" x="541.49" y="1454.4">201</text>
<text class="t" x="540.7" y="1479.4">D–BU</text>
<text class="t" x="762.65" y="1454.4">118</text>
<text class="t" x="762.5" y="1479.4">BN/D–BU</text>
<text class="t" x="954.45" y="1454.4">118</text>
<text class="t" x="954.3" y="1479.4">BN/D–BU</text>
<text class="t" x="1176.89" y="1454.4">201</text>
<text class="t" x="1176.1" y="1479.4">D–BU</text>
<text class="t" x="1379.09" y="1454.4">200</text>
<text class="t" x="1379.8" y="1479.4">YE</text>
<text class="t" x="1579.95" y="1454.4">117</text>
<text class="t" x="1581.3" y="1479.4">YE/BK</text>
<text class="t" x="1821.05" y="1454.4">116</text>
<text class="t" x="1820.9" y="1479.4">D–GN/BK</text>
<text class="t" x="2042.85" y="1454.4">199</text>
<text class="t" x="2042.7" y="1479.4">D–GN</text>
<text class="t" x="2270.95" y="1454.4">115</text>
<text class="t" x="2270.8" y="1479.4">D–BU/BK</text>
<text class="t" x="2493.88" y="1454.4">46</text>
<text class="t" x="2494.34" y="1479.4">WH</text>
<text class="t" x="41.39" y="220.9">X2</text>
<text class="t" x="111.85" y="220.9">10</text>
<text class="t" x="331.29" y="220.9">2</text>
<text class="t" x="954.85" y="220.9">14</text>
<text class="t" x="1173.08" y="220.9">6</text>
<text class="t" x="1821.65" y="220.9">11</text>
<text class="t" x="2040.4" y="220.9">3</text>
<text class="t" x="2271.65" y="220.9">15</text>
<text class="t" x="2489.97" y="220.9">7</text>
<text class="t" x="16.99" y="1125.5">X600</text>
<text class="t" x="444.79" y="1125.5">X210</text>
<text class="t" x="858.39" y="1125.5">X500</text>
<text class="t" x="1281.59" y="1125.5">X210</text>
<text class="t" x="1724.99" y="1125.5">X700</text>
<text class="t" x="2174.89" y="1125.5">X800</text>
<text class="t" x="126.75" y="1125.5">17</text>
<text class="t" x="344.35" y="1125.5">18</text>
<text class="t" x="554.55" y="1125.5">11</text>
<text class="t" x="772.55" y="1125.5">10</text>
<text class="t" x="968.15" y="1125.5">15</text>
<text class="t" x="1186.15" y="1125.5">14</text>
<text class="t" x="1391.35" y="1125.5">12</text>
<text class="t" x="1589.85" y="1125.5">13</text>
<text class="t" x="1835.39" y="1125.5">20</text>
<text class="t" x="2052.75" y="1125.5">19</text>
<text class="t" x="2285.29" y="1125.5">20</text>
<text class="t" x="2502.45" y="1125.5">19</text>
<text class="t" x="2550.99" y="69.7">T3</text>
<text class="t" x="2551.5" y="95">Audio</text>
<text class="t" x="2551.5" y="119.8">Amplifier</text>
<rect x="2731.65" y="17.45" width="88.6" height="83.8" fill="#fff" stroke-width="5.3"/>
<rect x="2731.65" y="135.85" width="88.6" height="83.5" fill="#fff" stroke-width="5.3"/>
<rect x="2731.65" y="372.65" width="88.6" height="83.7" fill="#fff" stroke-width="5.3"/>
<rect x="2731.65" y="490.55" width="89.7" height="83.8" fill="#fff" stroke-width="5.3"/>
<text class="t" x="2747.97" y="49" font-size="27.8">L</text>
<text class="t" x="2766.83" y="70.6" font-size="27.8">O</text>
<text class="t" x="2787.04" y="88.8" font-size="27.8">C</text>
<text class="t" x="2737.17" y="160.8" font-size="27.8">D</text>
<text class="t" x="2756.17" y="175.9" font-size="27.8">E</text>
<text class="t" x="2773.19" y="194.5" font-size="27.8">S</text>
<text class="t" x="2790.04" y="212.7" font-size="27.8">C</text>
<path d="M2749 407.1 H2776.5 V392.9 L2803.9 414.1 L2776.5 435.3 V421.1 H2749 Z" fill="#000" stroke="none"/>
<path d="M2803.9 524.9 H2776 V512 L2749.7 532 L2776 552.8 V539 H2803.9 Z" fill="#000" stroke="none"/>
<path d="M2733 284.4 L2742.8 275 V280.1 H2781.1 V273.8 L2792 284.4 L2781.1 295.1 V288.8 H2742.8 V293.9 Z" fill="#000" stroke="none"/>
<path d="M2774.5 267.9 L2778.7 250.2 L2804.9 263.5 L2810 277.4 L2826.4 288.6 L2824 302.2 L2802.6 305 L2795.1 312.9 L2765.1 313.1 L2766.5 305.3" stroke-width="4.2" fill="none" stroke-linejoin="miter"/>
<path d="M2769.2 326.9 H2802.5 A5.55 5.55 0 0 1 2802.5 338 H2764.5 L2757.7 344.8 Q2755.6 345.9 2752 345.9 L2748.1 345.8 Q2745 344.5 2743.4 342 L2741 338 V331.8 L2743.5 331.8 L2751.5 336.9 L2754.9 332.5 V328.1 L2746.1 323.3 L2750.9 318.9 H2757.7 L2761.7 321 L2765.8 325.7 Z" fill="#000" stroke="none"/>
</g>
</svg>
</body></html>
